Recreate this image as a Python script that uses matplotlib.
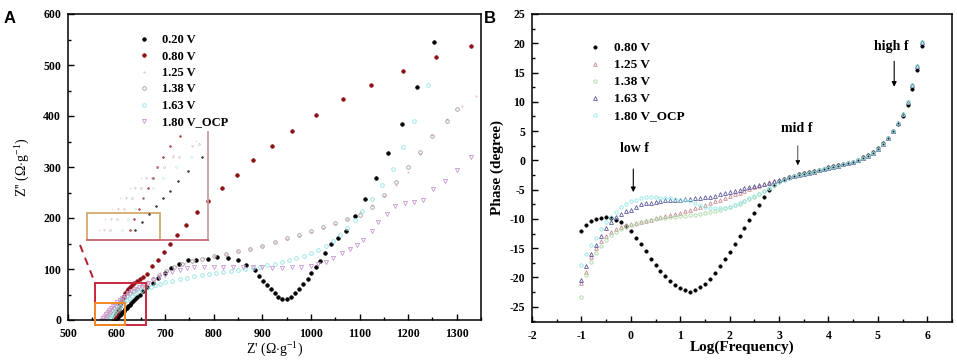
import matplotlib
matplotlib.use('Agg')
import matplotlib.pyplot as plt
from matplotlib.lines import Line2D
from matplotlib.patches import Rectangle
from matplotlib.ticker import MultipleLocator

plt.rcParams['font.family'] = ['Liberation Serif', 'DejaVu Serif']
plt.rcParams['mathtext.fontset'] = 'custom'
plt.rcParams['mathtext.rm'] = 'Liberation Serif'
plt.rcParams['mathtext.bf'] = 'Liberation Serif:bold'
plt.rcParams['axes.unicode_minus'] = False

# ---------------- Panel A data (Nyquist) ----------------
a_labels = ['0.20 V', '0.80 V', '1.25 V', '1.38 V', '1.63 V', '1.80 V_OCP']

zr_020 = [597,600,603,606,609,612,615,618,621,624,627,630,634,638,643,648,655,663,675,686,
          700,713,729,746,763,789,807,830,849,867,885,894,902,910,918,925,933,941,950,959,
          967,976,984,993,1001,1010,1019,1029,1042,1056,1072,1090,1111,1133,1159,1187,1219,1253]
zi_020 = [0,3,6,9,12,15,18,21,24,27,30,33,37,41,45,50,56,64,72,82,
          92,102,110,117,118,119,123,121,117,108,98,87,77,69,60,53,45,41,41,46,
          53,61,70,81,92,103,115,131,149,160,175,203,238,279,327,385,456,546]

zr_080 = [592,594,596,598,600,602,604,606,608,610,612,614,616,618,621,624,627,631,636,642,
          649,655,663,672,685,697,710,725,743,766,789,816,847,881,920,962,1010,1065,1123,1189,
          1257,1330]
zi_080 = [0,4,8,12,16,20,24,28,32,36,40,44,48,52,56,60,64,68,72,76,
          80,84,90,105,118,133,150,167,187,212,233,259,285,314,341,370,401,433,461,489,
          515,538]

zr_125 = [565,568,571,574,577,580,584,588,592,597,602,608,615,622,630,640,650,662,675,690,
          705,722,740,760,780,800,825,850,875,900,925,950,975,1000,1025,1050,1075,1100,1125,1150,
          1175,1200,1225,1250,1280,1310,1340]
zi_125 = [0,4,8,12,16,20,24,28,32,36,40,44,48,52,57,62,68,76,84,92,
          99,106,112,117,121,125,130,135,140,146,152,158,165,172,180,189,199,211,226,244,
          265,290,325,363,395,420,440]

zr_138 = [575,578,581,584,587,590,594,598,602,606,611,616,622,628,635,643,652,662,674,688,
          702,718,735,755,775,800,825,850,875,900,925,950,975,1000,1025,1050,1075,1100,1125,1150,
          1175,1200,1225,1250,1280,1300]
zi_138 = [0,4,8,12,16,20,24,28,32,36,40,44,48,52,56,61,66,73,81,89,
          97,104,110,115,120,125,130,135,140,146,153,160,167,175,183,190,198,206,222,245,
          270,300,330,360,390,413]

zr_163 = [585,588,591,594,597,600,604,608,612,616,621,626,632,638,645,652,660,670,680,690,
          700,715,730,745,760,775,790,805,820,835,850,865,880,895,910,925,940,955,970,985,
          1000,1015,1030,1045,1060,1075,1090,1106,1125,1147,1168,1189,1213,1240]
zi_163 = [0,4,8,12,16,20,24,28,32,36,40,44,48,52,56,59,62,65,68,71,
          74,77,80,83,86,88,90,92,94,96,98,100,102,104,107,110,113,117,121,126,
          131,137,145,155,166,180,196,213,237,264,297,340,390,460]

zr_180 = [570,573,576,579,582,585,589,593,597,601,606,611,617,623,630,638,646,655,665,676,
          688,700,715,730,745,760,780,800,820,840,860,880,900,920,940,960,980,1000,1015,1030,
          1045,1063,1080,1095,1108,1125,1139,1156,1173,1193,1212,1231,1252,1276,1300,1330]
zi_180 = [0,4,8,12,16,20,24,28,32,36,40,44,48,52,56,60,64,68,73,78,
          84,89,94,98,101,103,104,104,104,103,103,103,103,102,102,103,104,106,109,114,
          122,132,139,147,157,174,193,207,223,230,232,236,256,272,295,320]

# ---------------- Panel B data (Bode phase) ----------------
b_labels = ['0.80 V', '1.25 V', '1.38 V', '1.63 V', '1.80 V_OCP']
logf = [-1.0,-0.9,-0.8,-0.7,-0.6,-0.5,-0.4,-0.3,-0.2,-0.1,
        0.0,0.1,0.2,0.3,0.4,0.5,0.6,0.7,0.8,0.9,
        1.0,1.1,1.2,1.3,1.4,1.5,1.6,1.7,1.8,1.9,
        2.0,2.1,2.2,2.3,2.4,2.5,2.6,2.7,2.8,2.9,
        3.0,3.1,3.2,3.3,3.4,3.5,3.6,3.7,3.8,3.9,
        4.0,4.1,4.2,4.3,4.4,4.5,4.6,4.7,4.8,4.9,
        5.0,5.1,5.2,5.3,5.4,5.5,5.6,5.7,5.8,5.9]
ph_080 = [-12.1,-11.1,-10.4,-10.0,-9.8,-9.7,-9.8,-10.1,-10.5,-11.2,
          -12.1,-13.2,-14.3,-15.5,-16.8,-17.9,-18.9,-19.8,-20.6,-21.3,
          -21.8,-22.2,-22.4,-22.2,-21.7,-21.1,-20.3,-19.3,-18.1,-16.9,
          -15.6,-14.3,-12.9,-11.5,-10.2,-8.9,-7.6,-6.3,-5.1,-4.2,
          -3.5,-3.1,-2.8,-2.6,-2.4,-2.2,-2.0,-1.8,-1.6,-1.4,
          -1.2,-1.0,-0.8,-0.6,-0.4,-0.2,0.1,0.5,0.9,1.4,
          2.1,2.9,3.8,5.0,6.2,7.6,9.5,12.2,15.5,19.5]
ph_125 = [-21.0,-19.0,-16.5,-15.0,-13.8,-12.9,-12.2,-11.7,-11.3,-11.0,
          -10.9,-10.7,-10.5,-10.3,-10.1,-9.9,-9.7,-9.5,-9.3,-9.1,
          -8.9,-8.7,-8.5,-8.2,-7.9,-7.6,-7.3,-7.0,-6.7,-6.4,
          -6.1,-5.8,-5.5,-5.2,-4.9,-4.6,-4.3,-4.0,-3.7,-3.5,
          -3.3,-3.1,-2.9,-2.7,-2.5,-2.3,-2.1,-1.9,-1.7,-1.5,
          -1.3,-1.1,-0.9,-0.7,-0.5,-0.3,0.0,0.4,0.8,1.3,
          2.0,2.8,3.8,5.0,6.3,7.9,10.0,12.8,16.2,20.3]
ph_138 = [-23.3,-19.5,-17.3,-15.8,-14.6,-13.6,-12.8,-12.2,-11.7,-11.3,
          -11.0,-10.8,-10.6,-10.4,-10.2,-10.0,-9.9,-9.8,-9.7,-9.6,
          -9.5,-9.5,-9.4,-9.3,-9.2,-9.0,-8.8,-8.6,-8.4,-8.2,
          -8.0,-7.7,-7.4,-7.0,-6.6,-6.2,-5.7,-5.2,-4.7,-4.2,
          -3.7,-3.3,-3.0,-2.7,-2.5,-2.3,-2.1,-1.9,-1.7,-1.5,
          -1.3,-1.1,-0.9,-0.7,-0.5,-0.3,0.0,0.4,0.8,1.3,
          2.0,2.8,3.8,5.0,6.3,7.9,10.0,12.8,16.2,20.3]
ph_163 = [-20.4,-18.0,-16.0,-14.4,-12.9,-11.6,-10.5,-9.7,-9.1,-8.7,
          -8.4,-7.9,-7.5,-7.3,-7.2,-7.1,-6.9,-6.8,-6.7,-6.7,
          -6.7,-6.6,-6.6,-6.5,-6.4,-6.3,-6.2,-6.0,-5.8,-5.6,
          -5.4,-5.2,-5.0,-4.8,-4.6,-4.4,-4.2,-4.0,-3.8,-3.6,
          -3.4,-3.1,-2.9,-2.7,-2.5,-2.3,-2.1,-1.9,-1.7,-1.5,
          -1.3,-1.1,-0.9,-0.7,-0.5,-0.3,0.0,0.4,0.8,1.3,
          2.0,2.8,3.8,5.0,6.3,7.9,10.0,12.8,16.2,20.3]
ph_180 = [-17.9,-16.0,-14.5,-13.2,-11.8,-10.6,-9.6,-8.8,-8.0,-7.4,
          -7.0,-6.7,-6.4,-6.2,-6.2,-6.3,-6.4,-6.5,-6.5,-6.6,
          -6.7,-6.8,-7.0,-7.3,-7.6,-7.9,-8.1,-8.2,-8.2,-8.1,
          -7.9,-7.6,-7.3,-6.9,-6.5,-6.1,-5.7,-5.2,-4.7,-4.2,
          -3.7,-3.3,-3.0,-2.7,-2.5,-2.3,-2.1,-1.9,-1.7,-1.5,
          -1.3,-1.1,-0.9,-0.7,-0.5,-0.3,0.0,0.4,0.8,1.3,
          2.0,2.8,3.8,5.0,6.3,7.9,10.0,12.8,16.2,20.3]

# ---------------- figure ----------------
W, H = 957, 362
fig = plt.figure(figsize=(W / 100, H / 100), dpi=100)

def rect(l, t, r, b):
    return [l / W, 1 - b / H, (r - l) / W, (b - t) / H]

axA = fig.add_axes(rect(68, 14, 481, 320))
axB = fig.add_axes(rect(532, 14, 952, 322))

styleA = [
    dict(marker='o', ms=2.6, color='black', mfc='black', mec='black', mew=0.5),
    dict(marker='o', ms=2.6, color='#8b0f14', mfc='#8b0f14', mec='#8b0f14', mew=0.5),
    dict(marker='.', ms=2.2, color='#ecc7c7', mfc='#ecc7c7', mec='#ecc7c7', mew=0.4),
    dict(marker='o', ms=2.6, color='#a29aa6', mfc='none', mec='#a29aa6', mew=0.6),
    dict(marker='o', ms=2.6, color='#8fe3e3', mfc='none', mec='#8fe3e3', mew=0.6),
    dict(marker='v', ms=3.0, color='#c99ad2', mfc='none', mec='#c99ad2', mew=0.6),
]
seriesA = [(zr_020, zi_020), (zr_080, zi_080), (zr_125, zi_125),
           (zr_138, zi_138), (zr_163, zi_163), (zr_180, zi_180)]
for (zx, zy), st, lab in zip(seriesA, styleA, a_labels):
    axA.plot(zx, zy, linestyle='none', label=lab, **st)

axA.set_xlim(500, 1350)
axA.set_ylim(0, 600)
axA.xaxis.set_major_locator(MultipleLocator(100))
axA.xaxis.set_minor_locator(MultipleLocator(50))
axA.yaxis.set_major_locator(MultipleLocator(100))
axA.yaxis.set_minor_locator(MultipleLocator(50))

for ax in (axA, axB):
    ax.tick_params(which='both', direction='in', top=False, right=False,
                   labelsize=8.5, width=1.0)
    ax.tick_params(axis='x', which='major', pad=6)
    ax.tick_params(axis='y', which='major', pad=5)
    ax.tick_params(which='major', length=4.5)
    ax.tick_params(which='minor', length=2.5)
    for s in ax.spines.values():
        s.set_linewidth(1.1)

axA.set_xlabel(r"Z' ($\Omega$$\cdot$g$^{\mathregular{-1}}$)", fontsize=10, labelpad=-1)
axA.set_ylabel(r"Z'' ($\Omega$$\cdot$g$^{\mathregular{-1}}$)", fontsize=10, labelpad=9)

axA.legend(loc='upper left', bbox_to_anchor=((138 - 68) / 413, (320 - 34) / 306),
           frameon=False, handlelength=0.9, handletextpad=1.0, labelspacing=0.36,
           borderpad=0, borderaxespad=0, markerscale=1.0,
           prop={'weight': 'bold', 'size': 9})

# zoom boxes in panel A
axA.add_patch(Rectangle((555, -10), 105, 82, fill=False, ec='#c8283a', lw=1.4, clip_on=False, zorder=5))
axA.add_patch(Rectangle((555, -10), 62, 43, fill=False, ec='#f08a24', lw=1.4, clip_on=False, zorder=6))
fig.add_artist(Line2D([80 / W, 95 / W], [1 - 245 / H, 1 - 283 / H], transform=fig.transFigure,
                      color='#b0202a', lw=1.4, ls=(0, (4, 3))))

# inset (magnified origin region)
axI = fig.add_axes(rect(87, 132, 208, 240))
for (zx, zy), st in zip(seriesA, styleA):
    st2 = dict(st)
    st2['ms'] = 1.3
    st2['mew'] = 0.4
    axI.plot(zx[::2], zy[::2], linestyle='none', alpha=0.75, **st2)
axI.set_xlim(555, 660)
axI.set_ylim(-8, 75)
axI.set_xticks([])
axI.set_yticks([])
axI.patch.set_alpha(0)
axI.spines['top'].set_visible(False)
axI.spines['left'].set_visible(False)
axI.spines['bottom'].set_color('#c86a78')
axI.spines['right'].set_color('#c9a0a4')
axI.spines['bottom'].set_linewidth(1.3)
axI.spines['right'].set_linewidth(1.3)
axI.add_patch(Rectangle((0, 0), 0.6, 0.25, transform=axI.transAxes, fill=False,
                        ec='#d4aa6c', lw=1.3, clip_on=False))

# ---------------- Panel B ----------------
styleB = [
    dict(marker='o', ms=2.4, color='black', mfc='black', mec='black', mew=0.5),
    dict(marker='^', ms=2.6, color='#c98a93', mfc='none', mec='#c98a93', mew=0.6),
    dict(marker='o', ms=2.4, color='#a8d8a0', mfc='none', mec='#a8d8a0', mew=0.6),
    dict(marker='^', ms=2.8, color='#5a5aa0', mfc='none', mec='#5a5aa0', mew=0.6),
    dict(marker='o', ms=2.4, color='#90e6e6', mfc='none', mec='#90e6e6', mew=0.6),
]
seriesB = [ph_080, ph_125, ph_138, ph_163, ph_180]
for ph, st, lab in zip(seriesB, styleB, b_labels):
    axB.plot(logf, ph, linestyle='none', label=lab, **st)

axB.set_xlim(-2, 6.5)
axB.set_ylim(-27.6, 25)
axB.xaxis.set_major_locator(MultipleLocator(1))
axB.xaxis.set_minor_locator(MultipleLocator(0.5))
axB.yaxis.set_major_locator(MultipleLocator(5))
axB.yaxis.set_minor_locator(MultipleLocator(2.5))
axB.set_xlabel('Log(Frequency)', fontsize=11, fontweight='bold', labelpad=-1)
axB.set_ylabel('Phase (degree)', fontsize=11, fontweight='bold', labelpad=4)

for ax in (axA, axB):
    for lab in ax.get_xticklabels() + ax.get_yticklabels():
        lab.set_fontweight('bold')

axB.legend(loc='upper left', bbox_to_anchor=((589 - 532) / 420, (322 - 42) / 308),
           frameon=False, handlelength=0.9, handletextpad=1.0, labelspacing=0.36,
           borderpad=0, borderaxespad=0,
           prop={'weight': 'bold', 'size': 9.5})

arrow_kw = dict(arrowstyle='-|>', color='black', lw=0.8, mutation_scale=7)
axB.annotate('', xy=(0.05, -5.9), xytext=(0.05, -1.0), arrowprops=arrow_kw)
axB.text(0.07, 0.9, 'low f', ha='center', va='bottom', fontsize=10, fontweight='bold')
axB.annotate('', xy=(3.38, -1.3), xytext=(3.38, 3.0),
             arrowprops=dict(arrowstyle='-|>', color='black', lw=0.5, mutation_scale=7))
axB.text(3.36, 4.4, 'mid f', ha='center', va='bottom', fontsize=10, fontweight='bold')
axB.annotate('', xy=(5.33, 12.1), xytext=(5.33, 17.4), arrowprops=arrow_kw)
axB.text(5.27, 18.4, 'high f', ha='center', va='bottom', fontsize=10, fontweight='bold')

# panel letters
fig.text(4 / W, 1 - 23 / H, 'A', fontsize=12, fontweight='bold', family='Liberation Sans')
fig.text(484 / W, 1 - 23 / H, 'B', fontsize=12, fontweight='bold', family='Liberation Sans')

fig.savefig('out.png', dpi=100)
